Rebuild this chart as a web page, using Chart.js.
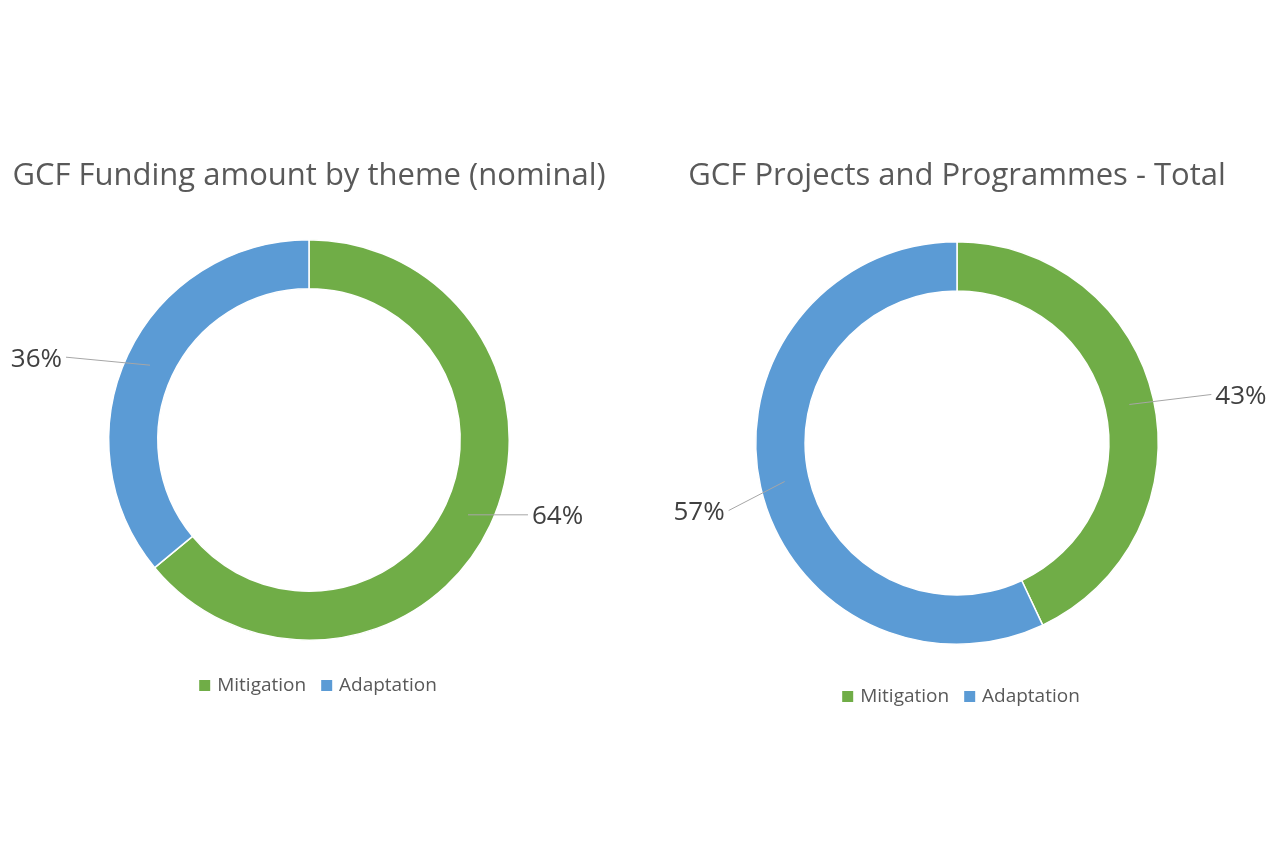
<!DOCTYPE html>
<html><head><meta charset="utf-8">
<script src="https://cdn.jsdelivr.net/npm/chart.js@4"></script>
<style>
body{margin:0;width:1280px;height:854px;background:#fff;position:relative;overflow:hidden;font-family:"Open Sans",sans-serif;color:#595959}
.c{position:absolute;top:0;width:640px;height:854px}
.t{position:absolute;font-size:31px;white-space:nowrap;transform:translateX(-50%)}
.lg{position:absolute;font-size:19px;white-space:nowrap;transform:translateX(-50%)}
.lg span.sq{display:inline-block;width:11px;height:11px;margin:0 7px 0 0}
</style></head><body>
<div class="c" style="left:0"><canvas id="a"></canvas></div>
<div class="c" style="left:640px"><canvas id="b"></canvas></div>
<div class="t" style="left:309px;top:152px">GCF Funding amount by theme (nominal)</div>
<div class="t" style="left:957px;top:152px">GCF Projects and Programmes - Total</div>
<div class="lg" style="left:318px;top:671px"><span class="sq" style="background:#70AD47"></span>Mitigation &nbsp;&nbsp;<span class="sq" style="background:#5B9BD5"></span>Adaptation</div>
<div class="lg" style="left:961px;top:682px"><span class="sq" style="background:#70AD47"></span>Mitigation &nbsp;&nbsp;<span class="sq" style="background:#5B9BD5"></span>Adaptation</div>
<script>
const categories=["Mitigation","Adaptation"];
const fundingValues=[64,36];
const projectValues=[43,57];
const colors=["#70AD47","#5B9BD5"];
// label offsets: [line end dx, dy relative to start, text side]
function labelPlugin(offsets){return{id:'lbl',afterDatasetsDraw(ch){
 const ctx=ch.ctx,meta=ch.getDatasetMeta(0);
 meta.data.forEach((arc,i)=>{
  const mid=(arc.startAngle+arc.endAngle)/2,r=(arc.innerRadius+arc.outerRadius)/2;
  const x=arc.x+Math.cos(mid)*r,y=arc.y+Math.sin(mid)*r;
  const o=offsets[i],ex=x+o[0],ey=y+o[1];
  ctx.save();ctx.strokeStyle='#a6a6a6';ctx.lineWidth=1;ctx.beginPath();ctx.moveTo(x,y);ctx.lineTo(ex,ey);ctx.stroke();
  ctx.fillStyle='#404040';ctx.font='26px "Open Sans"';ctx.textBaseline='middle';
  ctx.textAlign=o[0]>0?'left':'right';
  ctx.fillText(ch.data.datasets[0].data[i]+'%',ex+(o[0]>0?4:-4),ey+2);ctx.restore();});
}}}
function make(id,vals,pad,offs){
 new Chart(document.getElementById(id),{type:'doughnut',
  data:{labels:categories,datasets:[{data:vals,backgroundColor:colors,borderColor:'#fff',borderWidth:1.5}]},
  options:{responsive:true,maintainAspectRatio:false,animation:false,cutout:'75.5%',layout:{padding:pad},
   plugins:{legend:{display:false},tooltip:{enabled:false}}},
  plugins:[labelPlugin(offs)]});
}
make('a',fundingValues,{left:108,right:130,top:239,bottom:213},[[60,0],[-84,-8]]);
make('b',projectValues,{left:115,right:121,top:241,bottom:209},[[82,-10],[-56,29]]);
</script></body></html>
